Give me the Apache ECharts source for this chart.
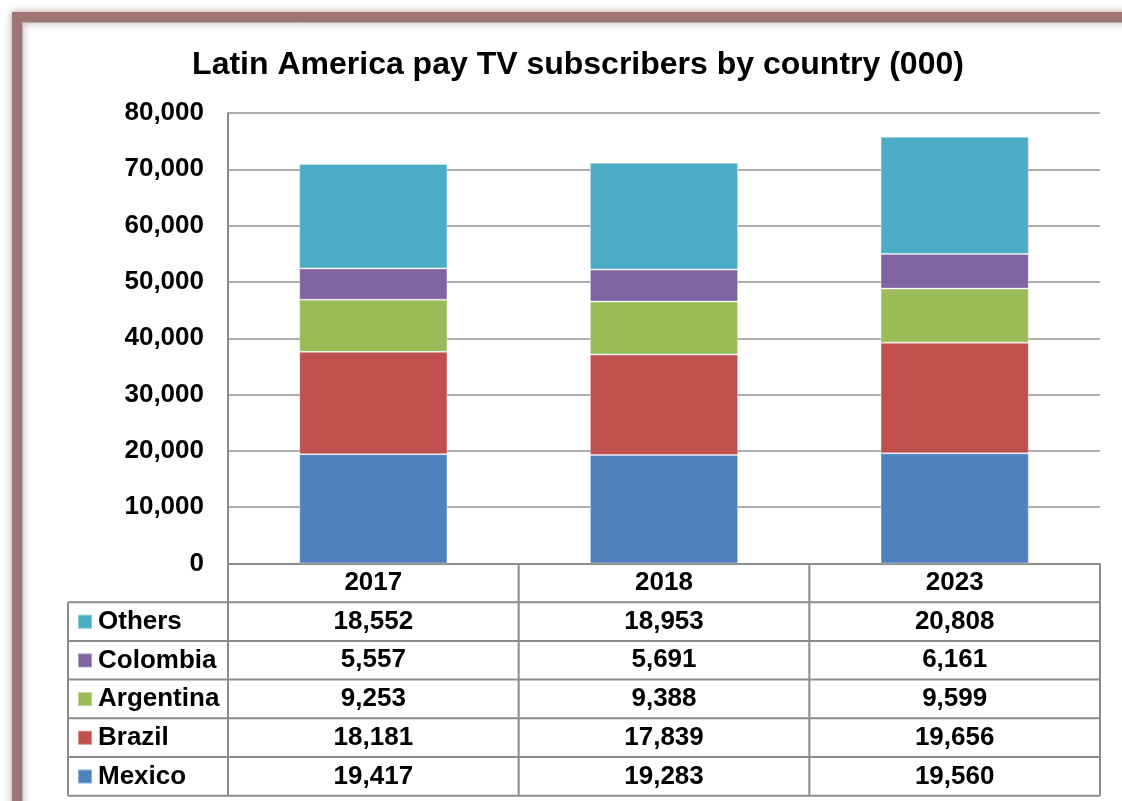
<!DOCTYPE html>
<html><head><meta charset="utf-8">
<script src="https://cdn.jsdelivr.net/npm/echarts@6/dist/echarts.min.js"></script>
<style>html,body{margin:0;padding:0;background:#fff}#c{width:1122px;height:801px}</style>
</head><body><div id="c"></div>
<script>
// ---- data ----
const categories = ['2017', '2018', '2023'];
const mexico    = [19417, 19283, 19560];
const brazil    = [18181, 17839, 19656];
const argentina = [9253, 9388, 9599];
const colombia  = [5557, 5691, 6161];
const others    = [18552, 18953, 20808];
const seriesNames = ['Mexico', 'Brazil', 'Argentina', 'Colombia', 'Others'];
const seriesData = [mexico, brazil, argentina, colombia, others];
const tableOrder = ['Others', 'Colombia', 'Argentina', 'Brazil', 'Mexico'];
const titleText = 'Latin America pay TV subscribers by country (000)';

// ---- layout/style ----
const colors = ['#4F81BD', '#C0504D', '#9BBB59', '#8064A2', '#4BACC6'];
const W = 1122, H = 801;
const gLeft = 228, gRight = 1100, gTop = 113, gBottom = 563.5;
const rowH = 38.7, nRows = tableOrder.length;
const tableLeft = 68;
const tableBottom = gBottom + rowH * (nRows + 1);
const lineColor = '#8c8c8c';
const fmt = v => v.toLocaleString('en-US');
const font = 'Arial, "Liberation Sans", sans-serif';

const chart = echarts.init(document.getElementById('c'), null, {renderer: 'canvas'});

const graphics = [];
// frame
graphics.push({type: 'rect', z: 100, silent: true,
  shape: {x: 17, y: 17, width: 1300, height: 1000},
  style: {fill: 'none', stroke: '#a27575', lineWidth: 10, shadowBlur: 8, shadowColor: 'rgba(90,40,40,0.45)'}});
graphics.push({type: 'rect', z: 100, silent: true,
  shape: {x: 22.5, y: 22.5, width: 1300, height: 1000},
  style: {fill: 'none', stroke: '#b4b4b4', lineWidth: 1}});
// table lines
const catW = (gRight - gLeft) / categories.length;
function hline(x1, x2, y) {
  graphics.push({type: 'line', z: 50, silent: true, shape: {x1, y1: y, x2, y2: y}, style: {stroke: lineColor, lineWidth: 2}});
}
function vline(x, y1, y2) {
  graphics.push({type: 'line', z: 50, silent: true, shape: {x1: x, y1, x2: x, y2}, style: {stroke: lineColor, lineWidth: 2}});
}
for (let r = 1; r <= nRows + 1; r++) hline(tableLeft, gRight, gBottom + rowH * r);
vline(tableLeft, gBottom + rowH, tableBottom);
vline(gLeft, gBottom, tableBottom);
for (let i = 1; i <= categories.length; i++) vline(gLeft + catW * i, gBottom, tableBottom);

const rich = {
  v: {fontFamily: font, fontWeight: 'bold', fontSize: 26, lineHeight: rowH, color: '#000', align: 'center'}
};

chart.setOption({
  animation: false,
  backgroundColor: '#fff',
  color: colors,
  title: {text: titleText, left: 573, top: 44, textAlign: 'center',
    textStyle: {fontFamily: font, fontWeight: 'bold', fontSize: 32, color: '#000'}},
  legend: {orient: 'vertical', left: 77, top: gBottom + rowH + 6.5, padding: 0,
    data: tableOrder, icon: 'rect', itemWidth: 14, itemHeight: 14, itemGap: rowH - 26,
    textStyle: {fontFamily: font, fontWeight: 'bold', fontSize: 26, lineHeight: 26, color: '#000', padding: [0, 0, 0, 1]}},
  grid: {left: gLeft, right: W - gRight, top: gTop, bottom: H - gBottom, containLabel: false},
  xAxis: {type: 'category', data: categories,
    axisLine: {lineStyle: {color: lineColor, width: 2}},
    axisTick: {show: false},
    axisLabel: {margin: 0, interval: 0,
      formatter: (val, idx) => {
        const lines = [val];
        tableOrder.forEach(n => lines.push(fmt(seriesData[seriesNames.indexOf(n)][idx])));
        return lines.map(s => '{v|' + s + '}').join('\n');
      },
      rich: rich}},
  yAxis: {type: 'value', min: 0, max: 80000, interval: 10000,
    axisLine: {show: true, lineStyle: {color: lineColor, width: 2}},
    axisTick: {show: false},
    splitLine: {lineStyle: {color: '#939393', width: 1.5}},
    axisLabel: {margin: 24, formatter: v => fmt(v),
      fontFamily: font, fontWeight: 'bold', fontSize: 26, color: '#000'}},
  series: seriesNames.map((n, i) => ({
    name: n, type: 'bar', stack: 'total', barWidth: '51%',
    data: seriesData[i],
    itemStyle: {color: colors[i], borderColor: 'rgba(255,255,255,0.35)', borderWidth: 1}
  })),
  graphic: graphics
});
</script></body></html>
